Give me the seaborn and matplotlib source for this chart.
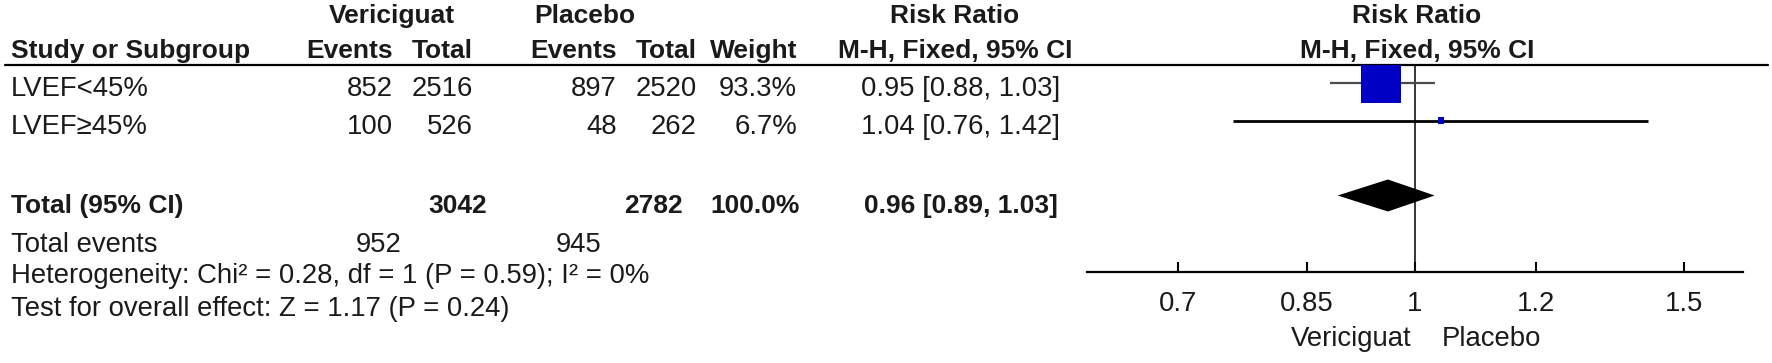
import numpy as np
import pandas as pd
import seaborn as sns
import matplotlib.pyplot as plt

sns.set_style("white")
plt.rcParams['font.family'] = ['Liberation Sans', 'DejaVu Sans']

# data
subgroups = ["LVEF<45%", "LVEF\u226545%"]
veri_events = [852, 100]
veri_total = [2516, 526]
plac_events = [897, 48]
plac_total = [2520, 262]
weights = [93.3, 6.7]
rr = [0.95, 1.04]
rr_lo = [0.88, 0.76]
rr_hi = [1.03, 1.42]

total_veri = 3042
total_plac = 2782
total_events_veri = 952
total_events_plac = 945
total_rr = 0.96
total_lo = 0.89
total_hi = 1.03

heterogeneity = "Heterogeneity: Chi\u00b2 = 0.28, df = 1 (P = 0.59); I\u00b2 = 0%"
overall_effect = "Test for overall effect: Z = 1.17 (P = 0.24)"
xticks = [0.7, 0.85, 1, 1.2, 1.5]
xlims = (0.61, 1 / 0.61)

df = pd.DataFrame({"subgroup": subgroups, "rr": rr, "lo": rr_lo, "hi": rr_hi,
                   "weight": weights, "row": [0, 1]})

W, H = 1772, 363
fig = plt.figure(figsize=(W / 100, H / 100), dpi=100)

# page axes in pixel coordinates for the table text
page = fig.add_axes([0, 0, 1, 1])
page.set_xlim(0, W)
page.set_ylim(H, 0)
page.axis("off")

FS, FS_B = 19.8, 19
def put(x, y, s, ha="left", bold=False):
    page.text(x, y, s, ha=ha, va="baseline", fontsize=FS_B if bold else FS,
              fontweight="bold" if bold else "normal", color="#1a1a1a")

LX = 11
# headers
put(392, 23, "Vericiguat", "center", True)
put(585, 23, "Placebo", "center", True)
put(955, 23, "Risk Ratio", "center", True)
put(1417, 23, "Risk Ratio", "center", True)
put(LX, 58, "Study or Subgroup", bold=True)
put(393, 58, "Events", "right", True)
put(473, 58, "Total", "right", True)
put(617, 58, "Events", "right", True)
put(697, 58, "Total", "right", True)
put(797, 58, "Weight", "right", True)
put(955, 58, "M-H, Fixed, 95% CI", "center", True)
put(1417, 58, "M-H, Fixed, 95% CI", "center", True)
page.plot([5, 1768], [65, 65], color="black", lw=1.6)

# study rows
for i, r in df.iterrows():
    y = 96 + 38 * i
    put(LX, y, r["subgroup"])
    put(393, y, f"{veri_events[i]}", "right")
    put(473, y, f"{veri_total[i]}", "right")
    put(617, y, f"{plac_events[i]}", "right")
    put(697, y, f"{plac_total[i]}", "right")
    put(797, y, f"{r['weight']:.1f}%", "right")
    put(1060, y, f"{r['rr']:.2f} [{r['lo']:.2f}, {r['hi']:.2f}]", "right")

# total rows
put(LX, 213, "Total (95% CI)", bold=True)
put(487, 213, f"{total_veri}", "right", True)
put(683, 213, f"{total_plac}", "right", True)
put(800, 213, f"{sum(weights):.1f}%", "right", True)
put(1058, 213, f"{total_rr:.2f} [{total_lo:.2f}, {total_hi:.2f}]", "right", True)
put(LX, 252, "Total events")
put(402, 252, f"{total_events_veri}", "right")
put(602, 252, f"{total_events_plac}", "right")
put(LX, 283, heterogeneity)
put(LX, 316, overall_effect)

# forest plot axes, log scale
top_px, bot_px = 65, 272
left_px, right_px = 1087, 1743
fax = fig.add_axes([left_px / W, (H - bot_px) / H,
                    (right_px - left_px) / W, (bot_px - top_px) / H])
fax.patch.set_alpha(0)
fax.set_xscale("log")
fax.set_xlim(*xlims)
row0, step = 83, 37.5
fax.set_ylim((bot_px - row0) / step, (top_px - row0) / step)

fax.axvline(1, color="black", lw=1.1, zorder=1)
fax.hlines(df["row"], df["lo"], df["hi"], colors=["#4a4a4a", "black"],
           lw=[1.6, 2.0], zorder=2)
sns.scatterplot(data=df, x="rr", y="row", size="weight", sizes=(25, 830),
                marker="s", color="#0000c4", linewidth=0, legend=False,
                ax=fax, zorder=3)
ty, dh = 3, 16 / step
fax.fill([total_lo, total_rr, total_hi, total_rr], [ty, ty - dh, ty, ty + dh],
         color="black", lw=0, zorder=3)

for s in ["top", "left", "right"]:
    fax.spines[s].set_visible(False)
fax.spines["bottom"].set_linewidth(1.6)
fax.spines["bottom"].set_color("black")
fax.set_yticks([])
fax.set_xticks(xticks)
fax.set_xticklabels([f"{t:g}" for t in xticks])
fax.minorticks_off()
fax.tick_params(axis="x", bottom=True, direction="in", length=7.5, width=1.5,
                color="black", pad=14, labelsize=FS, labelcolor="#1a1a1a")
fax.set_xlabel("")
fax.set_ylabel("")

put(1412, 346, "Vericiguat", "right")
put(1442, 346, "Placebo", "left")

fig.savefig("out.png", dpi=100)
